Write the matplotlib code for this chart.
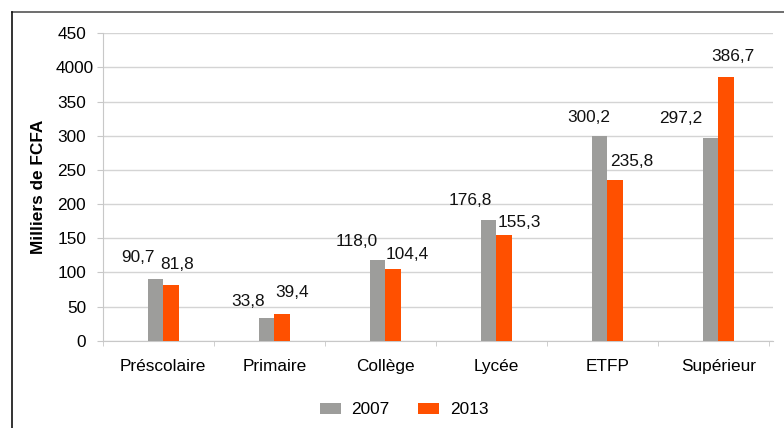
import numpy as np
import matplotlib
matplotlib.use('Agg')
import matplotlib.pyplot as plt
from matplotlib.lines import Line2D
from matplotlib.transforms import ScaledTranslation

categories = ['Préscolaire', 'Primaire', 'Collège', 'Lycée', 'ETFP', 'Supérieur']
values_2007 = [90.7, 33.8, 118.0, 176.8, 300.2, 297.2]
values_2013 = [81.8, 39.4, 104.4, 155.3, 235.8, 386.7]
series_names = ['2007', '2013']
yticks = [0, 50, 100, 150, 200, 250, 300, 350, 400, 450]
ytick_labels = ['0', '50', '100', '150', '200', '250', '300', '350', '4000', '450']

# label nudges in pixels (dx from bar centre, dy above bar top)
nudge_2007 = [(-18, 21), (-18, 16), (-21, 19), (-18, 19), (-11, 18), (-30, 19)]
nudge_2013 = [(6, 20), (10, 21), (14, 15), (15, 12), (17, 18), (7, 20)]

plt.rcParams['font.family'] = ['Liberation Sans', 'DejaVu Sans']
fs = 12.4

fig = plt.figure(figsize=(7.84, 4.28), dpi=100)
ax = fig.add_axes([103 / 784, 1 - 340.7 / 428, 670 / 784, 307.4 / 428])

grey = '#9d9d9b'
orange = '#ff5000'
w = 0.14
x = np.arange(len(categories))

ax.bar(x - w / 2, values_2007, w, color=grey, label=series_names[0], zorder=3)
ax.bar(x + w / 2, values_2013, w, color=orange, label=series_names[1], zorder=3)

def fmt(v):
    return ('%.1f' % v).replace('.', ',')

for i in range(len(categories)):
    ax.annotate(fmt(values_2007[i]), xy=(x[i] - w / 2, values_2007[i]), xytext=nudge_2007[i],
                textcoords='offset pixels', ha='center', va='center', fontsize=fs, color='#111111')
    ax.annotate(fmt(values_2013[i]), xy=(x[i] + w / 2, values_2013[i]), xytext=nudge_2013[i],
                textcoords='offset pixels', ha='center', va='center', fontsize=fs, color='#111111')

ax.set_xlim(-0.543, 5.493)
ax.set_ylim(0, 450)
ax.set_yticks(yticks)
ax.set_yticklabels(ytick_labels, fontsize=fs)
ax.set_xticks(x)
ax.set_xticklabels(categories, fontsize=fs)
ax.set_xticks(np.arange(-0.543, 5.6, 1.0), minor=True)
ax.tick_params(axis='x', which='major', length=0, pad=13)
ax.tick_params(axis='x', which='minor', length=3.6, color='#c8c8c8', direction='out')
ax.tick_params(axis='y', length=4.3, color='#c8c8c8', pad=7.9)

# the "4000" label sits a little right of the others
for lab in ax.get_yticklabels():
    if lab.get_text() == '4000':
        lab.set_transform(lab.get_transform() + ScaledTranslation(8 / 100, 0, fig.dpi_scale_trans))

ax.grid(axis='y', color='#d4d4d4', linewidth=1, zorder=0)
for s in ['top', 'right']:
    ax.spines[s].set_visible(False)
ax.spines['left'].set_color('#c8c8c8')
ax.spines['bottom'].set_color('#c8c8c8')

ax.set_ylabel('Milliers de FCFA', fontsize=fs, fontweight='bold')
ax.yaxis.set_label_coords(-(103 - 46) / 670, 0.5)

fig.legend(loc='center', bbox_to_anchor=(404 / 784, 1 - 410 / 428), ncol=2, frameon=False,
           fontsize=fs, handlelength=1.25, handleheight=0.61, columnspacing=1.63, handletextpad=0.6)

# page frame on top and left
fig.add_artist(Line2D([11.5 / 784, 1], [1 - 11.5 / 428, 1 - 11.5 / 428], color='#555555', lw=1.2))
fig.add_artist(Line2D([11.5 / 784, 11.5 / 784], [0, 1 - 11.5 / 428], color='#111111', lw=1.2))

fig.savefig('out.png', dpi=100)
